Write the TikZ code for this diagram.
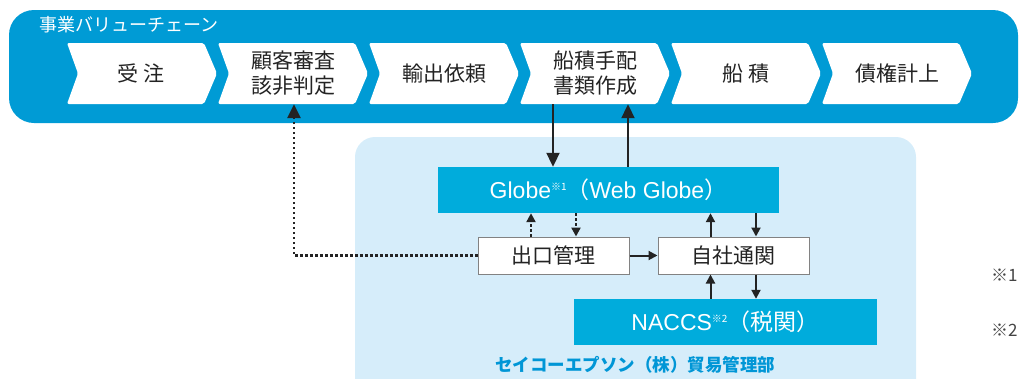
\documentclass[tikz,border=0pt]{standalone}
\usepackage{fontspec}
\setmainfont{Noto Sans CJK JP}
\newfontfamily\lat{Liberation Sans}
\usetikzlibrary{arrows.meta,calc}
\definecolor{outerblue}{RGB}{0,155,213}
\definecolor{sysblue}{RGB}{0,172,220}
\definecolor{lightbg}{RGB}{214,237,250}
\definecolor{deptblue}{RGB}{0,150,214}
\definecolor{txt}{RGB}{35,35,35}
\definecolor{boxline}{RGB}{130,130,130}
\newcommand\chevpath[1]{\fill[white,rounded corners=2pt] (#1,43) -- (#1+137,43) -- (#1+150,73.5) -- (#1+137,104) -- (#1,104) -- (#1+11,73.5) -- cycle;}
\begin{document}
\begin{tikzpicture}[x=1pt,y=-1pt,
  chevtext/.style={minimum height=61pt,inner sep=0pt,text=txt,align=center,font=\fontsize{21}{25}\selectfont},
  sysbox/.style={fill=sysblue,text=white,minimum height=46pt,inner sep=0pt,font=\fontsize{23}{23}\selectfont},
  procbox/.style={draw=boxline,line width=1pt,fill=white,text=txt,minimum width=151pt,minimum height=37pt,inner sep=0pt,font=\fontsize{21}{21}\selectfont},
  bigarr/.style={line width=2pt,draw=txt,-{Triangle[length=14pt,width=13pt]}},
  smallarr/.style={line width=2pt,draw=txt,-{Triangle[length=9pt,width=9pt]}},
  dotarr/.style={line width=2.5pt,draw=txt,dash pattern=on 2.5pt off 2.5pt,-{Triangle[length=9pt,width=9pt]}},
  dotbig/.style={line width=2.5pt,draw=txt,dash pattern=on 2.5pt off 2.5pt,-{Triangle[length=14pt,width=13pt]}},
  note/.style={anchor=west,text=txt!85,inner sep=0pt,font=\fontsize{17}{17}\selectfont}
]
\useasboundingbox (0,0) rectangle (1021,378);
\clip (0,0) rectangle (1021,378);
% outer value chain band
\fill[outerblue,rounded corners=25pt] (9,10) rectangle (1018,123);
\node[anchor=west,text=white,inner sep=0pt,font=\fontsize{18}{18}\selectfont] (title) at (39,25) {事業バリューチェーン};
% chevrons
\chevpath{67}
\chevpath{218}
\chevpath{369}
\chevpath{520}
\chevpath{671}
\chevpath{822}
\node[chevtext] (c1) at (141,73.5) {受\hspace{6pt}注};
\node[chevtext] (c2) at (293,73.5) {顧客審査\\該非判定};
\node[chevtext] (c3) at (444,73.5) {輸出依頼};
\node[chevtext] (c4) at (595,73.5) {船積手配\\書類作成};
\node[chevtext] (c5) at (746,73.5) {船\hspace{6pt}積};
\node[chevtext] (c6) at (897,73.5) {債権計上};
% department area
\fill[lightbg,rounded corners=20pt] (355,137) rectangle (916,400);
\node[sysbox,minimum width=341pt] (glob) at (608.5,190) {{\lat Globe}{\fontsize{10}{10}\selectfont\raisebox{8pt}{※1}}（{\lat Web Globe}）};
\node[procbox] (exp) at (553.5,255.5) {出口管理};
\node[procbox] (own) at (733.5,255.5) {自社通関};
\node[sysbox,minimum width=303pt] (nac) at (725.5,322) {{\lat NACCS}{\fontsize{10}{10}\selectfont\raisebox{8pt}{※2}}（税関）};
\node[text=deptblue,inner sep=0pt,font=\fontsize{17.5}{17.5}\selectfont\bfseries] (dept) at (635,365) {セイコーエプソン（株）貿易管理部};
% notes
\node[note] (n1) at (991,275) {※1};
\node[note] (n2) at (991,330) {※2};
% connectors chain <-> Globe
\coordinate (a1) at ($(c4.south)+(-42,0)$);
\coordinate (a2) at ($(c4.south)+(33,0)$);
\draw[bigarr] (a1) -- (a1 |- glob.north);
\draw[bigarr] (a2 |- glob.north) -- (a2);
% Globe <-> export control (dotted)
\coordinate (e1) at ($(exp.north)+(-22.5,0)$);
\coordinate (e2) at ($(exp.north)+(22.5,0)$);
\draw[dotarr] (e1) -- (e1 |- glob.south);
\draw[dotarr] (e2 |- glob.south) -- (e2);
% export control -> customs
\draw[smallarr] (exp.east) -- (own.west);
% customs <-> Globe
\coordinate (o1) at ($(own.north)+(-23,0)$);
\coordinate (o2) at ($(own.north)+(22.5,0)$);
\draw[smallarr] (o1) -- (o1 |- glob.south);
\draw[smallarr] (o2 |- glob.south) -- (o2);
% customs <-> NACCS
\coordinate (p1) at ($(own.south)+(-23,0)$);
\coordinate (p2) at ($(own.south)+(22.5,0)$);
\draw[smallarr] (p1 |- nac.north) -- (p1);
\draw[smallarr] (p2) -- (p2 |- nac.north);
% export control -> screening (dotted)
\coordinate (corner) at (294,255.5);
\draw[dotbig] (exp.west) -- (corner) -- (corner |- c2.south);
\end{tikzpicture}
\end{document}
